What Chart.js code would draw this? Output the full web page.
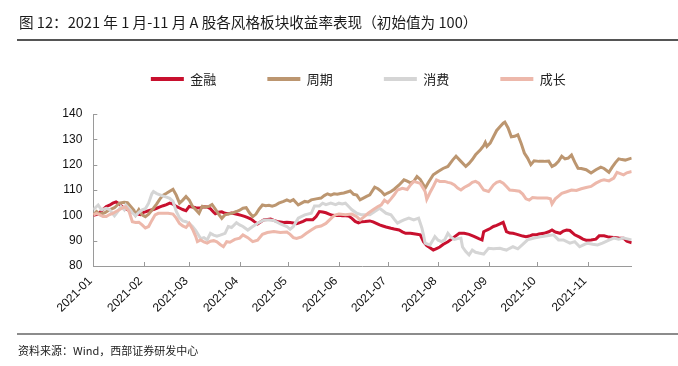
<!DOCTYPE html>
<html>
<head>
<meta charset="utf-8">
<script src="https://cdn.jsdelivr.net/npm/chart.js@4.4.0/dist/chart.umd.min.js"></script>
<style>
	body{margin:0;background:#fff;}
	#wrap{position:relative;width:678px;height:366px;overflow:hidden;font-family:"Noto Sans CJK SC",sans-serif;}
	#title{position:absolute;left:19px;top:12px;font-size:14.6px;line-height:20px;color:#1a1a1a;white-space:nowrap;}
	.rule{position:absolute;left:17px;right:0;}
	#ruleTop{top:39px;height:1.5px;background:#555;}
	#ruleBot{top:333px;height:2px;background:#8c8c8c;}
	#source{position:absolute;left:18px;top:342px;font-size:11px;line-height:16px;color:#222;white-space:nowrap;}
	canvas{position:absolute;left:0;top:0;}
</style>
</head>
<body>
<div id="wrap">
	<canvas id="myChart" width="678" height="366"></canvas>
	<div id="title">图 12：2021 年 1 月-11 月 A 股各风格板块收益率表现（初始值为 100）</div>
	<div class="rule" id="ruleTop"></div>
	<div class="rule" id="ruleBot"></div>
	<div id="source">资料来源：Wind，西部证券研发中心</div>
</div>
<script>
// x = day of 2021 (0 = Jan 1)
var monthStarts = [0, 31, 59, 90, 120, 151, 181, 212, 243, 273, 304];
var monthLabels = ['2021-01','2021-02','2021-03','2021-04','2021-05','2021-06','2021-07','2021-08','2021-09','2021-10','2021-11'];
var seriesNames = ['金融', '周期', '消费', '成长'];

// 金融
var jrDays = [0,3,6,8,10,12,14,16,17,19,21,23,25,27,29,
	31,33,35,37,39,41,43,45,47,49,51,53,55,57,59,
	61,63,66,68,70,72,74,75,77,79,81,83,85,87,89,
	91,93,95,97,99,101,103,105,107,109,111,113,115,117,119,
	121,123,125,127,129,131,133,135,137,139,141,143,145,147,
	149,151,153,155,157,159,161,163,165,167,170,172,174,176,178,180,
	183,185,188,190,192,195,198,201,203,205,207,209,211,
	213,215,218,220,222,225,228,231,234,237,239,240,242,
	244,246,248,250,252,254,256,258,260,262,264,266,268,270,272,
	274,277,280,282,284,287,289,291,293,296,299,301,303,
	306,309,311,314,317,320,323,326,328,331];
var jrVals = [100,100.5,102.4,103.5,104,104.8,105.3,104.5,103.8,102.8,102.3,101.5,101,100.5,100.3,
	101.2,101.6,102,102.3,102.8,103.3,103.8,104.2,104.8,104.4,103.5,102.9,102.3,101.8,103.5,
	103.3,103,102.9,103.4,103.3,102.6,101.2,100.6,101.2,101.4,100.8,100.6,100.9,100.6,100.3,
	100,99.6,99.1,98.5,97.5,96.6,97.5,98.3,98.4,98.5,98,97.6,97.4,97.2,97.3,
	97.2,97,96.7,97.1,97.6,98.3,98.3,98.3,99.5,101.5,101.3,101,100.5,100,
	99.9,100,99.8,99.8,99.7,98.8,97.6,97,97.5,97.6,97.8,97.4,96.8,96.2,95.8,95.4,
	94.9,94.6,94.2,93.5,92.9,92.9,92.6,92.3,89.6,88,87.2,86.3,86.9,
	87.5,88.5,89.6,90.5,91.5,92.9,92.9,92.5,91.7,90.8,90.3,93.5,94.2,
	94.8,95.6,96,96.6,97.2,93.6,93,92.9,92.6,92.2,91.8,91.6,91.8,92.3,92.3,
	92.6,92.9,93.5,94.2,93.4,92.9,93.8,94.2,94,92.3,91.4,90.6,90.2,
	90.3,90.6,91.9,91.9,91.4,91.3,91.1,91,89.8,89.2];

// 周期
var zqDays = [0,2,4,7,10,13,16,19,21,23,25,26,28,30,
	32,34,37,39,41,43,45,47,49,51,53,55,57,59,
	61,63,65,67,69,71,73,75,77,79,81,83,85,
	88,90,92,94,96,98,100,102,104,106,108,110,112,114,117,119,
	121,123,126,128,130,132,134,137,140,142,144,146,148,150,
	152,154,156,158,160,162,164,166,168,170,173,175,177,179,
	181,183,185,188,191,193,195,197,199,201,203,204,206,209,
	212,215,218,221,223,226,229,231,233,235,238,240,241,242,
	244,246,248,250,252,253,255,257,259,261,263,265,267,269,271,
	274,277,280,282,284,286,288,290,292,294,296,298,300,303,
	306,309,312,314,317,319,321,323,325,327,329,331];
var zqVals = [100.2,101.5,100.5,101,102.2,103,104.8,105.2,105,103.5,102,100.2,102.3,100.2,
	99.5,100.5,102.8,104.5,106.5,108,108.7,109.5,110.3,108,104.8,106,107.4,106,
	103.5,102.2,100.8,103.6,103.2,103.5,104.3,102.5,100.5,98.8,100.2,100.5,100.8,
	101.5,102,102.8,103,101,99.5,100.5,102.5,104.1,103.8,104,103.6,104,104.8,105.5,106.1,
	105.5,106.2,104.1,104.8,105.5,105.3,106.1,106.5,106.8,107.8,108.5,108,108.5,108.3,
	108.6,108.8,109.2,109.6,108.3,108,106.1,106.8,107.5,108.1,111.1,110.5,109.5,108.1,
	108.8,109.4,110.3,112,114,113.5,112.8,113.4,115.3,114.2,112,110.7,113,116,
	117.3,118.5,119.3,121.9,123.3,121.3,119.3,120.5,122,123.9,125.9,127.5,128.8,127.2,
	128.5,131,133.5,135,136.4,136.8,134.5,131,131.2,131.8,128.5,124.6,122.6,120,121.5,
	121.3,121.3,121.4,119.3,120,121.3,123.3,122.3,122.6,123.8,121,118.6,118.5,118,
	116.7,118,119,118.5,117,119,120.8,122.3,122,121.8,122.2,122.6];

// 消费
var xfDays = [0,2,3,5,8,10,13,15,17,19,20,22,24,26,28,30,
	32,34,36,37,39,41,43,45,47,49,51,53,55,57,59,
	61,63,66,68,70,72,74,76,78,81,83,85,88,90,
	92,95,98,101,105,108,111,115,119,
	121,123,126,130,134,136,139,141,143,146,
	149,151,153,155,157,159,162,165,168,170,173,176,178,180,
	183,185,187,189,191,194,197,200,202,203,204,206,207,209,210,
	212,214,216,218,220,222,224,226,227,229,231,233,235,237,240,
	243,246,250,252,254,256,258,261,264,267,271,
	275,279,283,286,289,293,296,299,302,
	304,307,310,313,317,320,323,326,329,331];
var xfVals = [102.2,103.5,104.1,102.2,102.8,102.2,99.8,101.5,103.5,102.2,104,102.6,101,99.8,101.2,102.2,
	102.6,104.8,108.5,109.4,108.6,108.1,107.6,107.2,106.7,105.5,101.5,99,97.8,97.5,96.8,
	95.6,94,90.8,91.2,90.3,92.9,92.2,91.8,92.2,92.9,95.6,95.2,97.1,96.2,
	95.6,94.2,95.6,96.9,98.2,98.2,98,96.6,95.6,
	94.5,95.6,98.9,100.2,100.8,103.7,103.7,104.8,104.2,104.8,
	104.2,104.8,104.5,104.8,103.5,102.2,100.8,100.2,100.2,100.2,101.5,102.8,101.8,100.8,
	100.2,98.5,96.9,97.6,98.2,98.9,98.2,98.9,95,92.3,89,88.5,88.3,90.5,91.6,
	90.2,89.6,90.3,92.9,91.3,90.5,90.8,91,87.5,85.7,84.4,86.3,85.4,85.1,84.7,
	87,86.8,87,86.6,86.3,87,87.6,86.8,88.5,90.3,91,
	91.5,91.9,92.3,90.3,90.3,89,89.6,87.6,88.5,
	89,88.6,88.3,89,90.2,91,90.6,91,90.6,90.3];

// 成长
var czDays = [0,2,4,6,8,10,12,14,16,18,20,22,24,26,28,30,
	32,34,36,38,40,43,46,49,51,53,55,57,59,
	61,63,64,66,68,70,72,74,76,78,80,82,84,87,
	90,92,95,98,101,104,107,111,115,119,
	121,123,125,128,131,134,137,140,143,147,149,151,
	155,159,162,164,166,169,172,175,177,179,
	181,183,185,187,190,193,195,197,199,201,203,204,205,207,209,211,
	213,216,218,220,222,224,226,228,231,233,235,237,240,
	243,246,248,250,252,254,256,259,262,264,266,268,270,
	273,276,279,281,282,284,286,288,291,294,297,300,303,
	306,309,312,314,317,320,322,324,326,328,331];
var czVals = [100.2,100.8,100.2,99.5,99.5,100.3,100.8,101.5,102.2,103,103.3,101.5,97.5,97.2,97.3,96.2,
	95,95.6,98,100.2,100.8,100.8,100.8,100.5,98.9,96.8,95.8,95.2,96.8,
	94.5,91.6,89.6,90.3,89.5,89,89.8,90,89.5,88.5,87.6,89.6,89.4,90.5,
	91,92.3,91.2,89.6,90.2,92.5,93.2,93.6,93.2,93.4,
	92.5,91.2,90.9,91.5,92.9,94.2,95.4,95.8,96.8,99.3,100.2,100.5,
	100.2,100.5,99.5,98.2,99.2,100.8,102.2,103.5,104.1,106,
	105,106.5,108.1,110,110.7,110.2,112,113.4,113,112.6,110.5,109.4,106.3,109,111.4,114,
	113.4,113.4,113,112.7,112,110.8,110,111,112,113,113.4,112.7,110,
	109.4,112,113,113.4,112.7,111.4,110,109.8,109.5,108.4,106.5,106,107,
	106.8,106.8,106.8,106.5,104.5,106.5,107.6,108.7,109.3,110,109.8,110.5,111,
	111.4,112.7,113.7,114,113.6,114.7,117,116.5,116,116.8,117.3];

var colors = ['#C8102E', '#BC9670', '#D5D5D5', '#EDB8AB'];
var axisGray = '#9a9a9a';

function toPoints(days, vals){
	var pts = [];
	for(var i = 0; i < days.length; i++){
		pts.push({x: days[i], y: vals[i]});
	}
	return pts;
}

var allDays = [jrDays, zqDays, xfDays, czDays];
var allVals = [jrVals, zqVals, xfVals, czVals];
var datasets = [];
for(var s = 0; s < seriesNames.length; s++){
	datasets.push({
		label: seriesNames[s],
		data: toPoints(allDays[s], allVals[s]),
		borderColor: colors[s],
		backgroundColor: colors[s],
		borderWidth: 3,
		pointRadius: 0,
		tension: 0,
		order: seriesNames.length - s   // later series drawn on top
	});
}

var padLeft = 55;
var plotLeft = 93.3;

// legend sits higher than the plot, and a bit right of centre
var legendBox = {
	id: 'legendBox',
	beforeInit: function(chart){
		var fit = chart.legend.fit;
		chart.legend.fit = function(){
			fit.call(this);
			this.height = 92.5;
		};
	},
	afterLayout: function(chart){
		var shift = 15;
		chart.legend.left += shift;
		chart.legend.right += shift;
	}
};

// tick marks point into the plot
var innerTicks = {
	id: 'innerTicks',
	beforeDatasetsDraw: function(chart){
		var ctx = chart.ctx, area = chart.chartArea;
		var x = chart.scales.x, y = chart.scales.y;
		ctx.save();
		ctx.strokeStyle = axisGray;
		ctx.lineWidth = 1;
		ctx.beginPath();
		x.ticks.forEach(function(t){
			var px = Math.round(x.getPixelForValue(t.value)) + 0.5;
			ctx.moveTo(px, area.bottom);
			ctx.lineTo(px, area.bottom - 4);
		});
		y.ticks.forEach(function(t){
			var py = Math.round(y.getPixelForValue(t.value)) + 0.5;
			ctx.moveTo(area.left, py);
			ctx.lineTo(area.left + 4, py);
		});
		ctx.stroke();
		ctx.restore();
	}
};

Chart.defaults.font.family = '"Liberation Sans", Arial, sans-serif';

var ctx = document.getElementById('myChart');
var chart = new Chart(ctx, {
	type: 'line',
	data: {datasets: datasets},
	options: {
		responsive: false,
		animation: false,
		layout: {padding: {left: padLeft, right: 46.3, top: 21.5, bottom: 0}},
		plugins: {
			legend: {
				position: 'top',
				labels: {
					usePointStyle: true,
					pointStyle: 'line',
					pointStyleWidth: 33,
					padding: 51,
					color: '#222',
					font: {family: '"Noto Sans CJK SC", sans-serif', size: 13},
					sort: function(a, b){ return a.datasetIndex - b.datasetIndex; },
					generateLabels: function(chart){
						return Chart.defaults.plugins.legend.labels.generateLabels(chart).map(function(item){
							item.lineWidth = 4;
							return item;
						});
					}
				}
			},
			tooltip: {enabled: false}
		},
		scales: {
			x: {
				type: 'linear',
				min: 0,
				max: 331,
				afterBuildTicks: function(scale){
					scale.ticks = monthStarts.map(function(v){ return {value: v}; });
				},
				afterFit: function(scale){ scale.height = 100; },
				grid: {display: false, drawTicks: false},
				border: {display: true, color: axisGray, width: 1},
				ticks: {
					autoSkip: false,
					minRotation: 45,
					maxRotation: 45,
					padding: 8,
					labelOffset: -3,
					color: '#111',
					font: {size: 12},
					callback: function(value){
						var i = monthStarts.indexOf(value);
						return i >= 0 ? monthLabels[i] : '';
					}
				}
			},
			y: {
				min: 80,
				max: 140,
				afterFit: function(scale){ scale.width = plotLeft - padLeft; },
				grid: {display: false, drawTicks: false},
				border: {display: true, color: axisGray, width: 1},
				ticks: {stepSize: 10, padding: 11, color: '#111', font: {size: 12}}
			}
		}
	},
	plugins: [legendBox, innerTicks]
});
</script>
</body>
</html>
